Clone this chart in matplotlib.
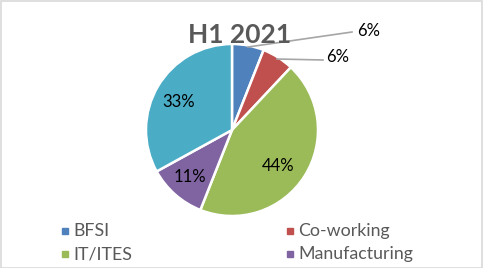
import matplotlib.pyplot as plt
from matplotlib.patches import Rectangle

# data
sectores = ['BFSI', 'Co-working', 'IT/ITES', 'Manufacturing', 'Others']
valores = [6, 6, 44, 11, 33]
colores = ['#4F81BD', '#C0504D', '#9BBB59', '#8064A2', '#4BACC6']
en_leyenda = 4  # la leyenda del original solo muestra 4

W, H = 483, 268
fig = plt.figure(figsize=(W / 100, H / 100), dpi=100)
ax = fig.add_axes([0, 0, 1, 1])

# todo en pixeles, y hacia arriba
cx, cy, r = 232, H - 130, 86
wedges, _ = ax.pie(valores, colors=colores, startangle=90, counterclock=False,
                   radius=r, center=(cx, cy),
                   wedgeprops=dict(edgecolor='white', linewidth=1.8))
ax.set_xlim(0, W)
ax.set_ylim(0, H)
ax.set_aspect('equal')
ax.axis('off')

fuente = 'Lato'
txt = '#000000'

# etiquetas dentro
dentro = {2: (278, 166), 3: (190, 177), 4: (179, 102)}
for i, (x, y) in dentro.items():
    ax.text(x, H - y, f'{valores[i]}%', ha='center', va='center',
            fontsize=12, family=fuente, color=txt)

# etiquetas fuera con linea guia
fuera = {0: ((248, 47), (352, 32), (369, 31)),
         1: ((277, 59), (323, 60), (338, 57))}
for i, (p0, p1, pt) in fuera.items():
    ax.plot([p0[0], p1[0]], [H - p0[1], H - p1[1]], color='#A6A6A6', lw=1.2)
    ax.text(pt[0], H - pt[1], f'{valores[i]}%', ha='center', va='center',
            fontsize=12, family=fuente, color=txt)

# titulo
ax.text(240, H - 35, 'H1 2021', ha='center', va='center', fontsize=19,
        fontweight='bold', family=fuente, color='#595959')

# leyenda a mano
pos_ley = [(62, 231), (287, 231), (62, 254), (287, 254)]
for i in range(en_leyenda):
    x, y = pos_ley[i]
    ax.add_patch(Rectangle((x, H - y - 3), 6, 6, color=colores[i]))
    ax.text(x + 11, H - y, sectores[i], ha='left', va='center',
            fontsize=12.8, family=fuente, color='#595959')

# marco
fig.patches.append(Rectangle((0.5 / W, 0.5 / H), 1 - 1.5 / W, 1 - 1.5 / H,
                             transform=fig.transFigure, fill=False,
                             edgecolor='#D9D9D9', lw=1.2))

fig.savefig('out.png', dpi=100)
